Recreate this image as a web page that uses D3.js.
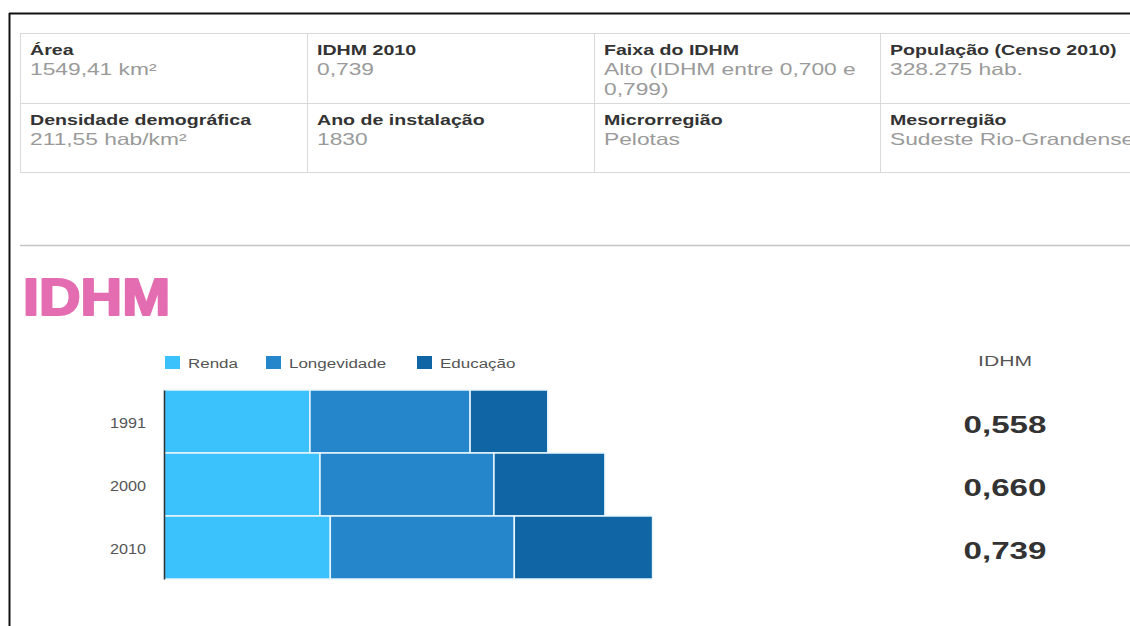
<!DOCTYPE html>
<html><head><meta charset="utf-8">
<script src="https://cdn.jsdelivr.net/npm/d3@7"></script>
<style>html,body{margin:0;padding:0;background:#fff;overflow:hidden}</style>
</head><body>
<svg id="c" width="1130" height="626"></svg>
<script>
// ---- data ----
const infoLabels = ["Área","IDHM 2010","Faixa do IDHM","População (Censo 2010)","Densidade demográfica","Ano de instalação","Microrregião","Mesorregião"];
const infoValues = [["1549,41 km²"],["0,739"],["Alto (IDHM entre 0,700 e","0,799)"],["328.275 hab."],["211,55 hab/km²"],["1830"],["Pelotas"],["Sudeste Rio-Grandense"]];
const years = ["1991","2000","2010"];
const series = ["Renda","Longevidade","Educação"];
const renda = [0.667, 0.713, 0.760];
const longevidade = [0.732, 0.795, 0.841];
const educacao = [0.355, 0.507, 0.632];
const idhm = ["0,558","0,660","0,739"];
const colors = ["#3bc2fc","#2686cb","#1066a5"];

const SX = 1.38;
const FONT = "'Liberation Sans', Arial, sans-serif";
const svg = d3.select("#c");

function txt(x, y, s, opt) {
  opt = opt || {};
  const t = svg.append("text")
    .attr("transform", `translate(${x},${y}) scale(${opt.sx || SX},1)`)
    .attr("font-family", FONT)
    .attr("font-size", opt.size || 14)
    .attr("font-weight", opt.weight || "normal")
    .attr("fill", opt.fill || "#333")
    .attr("text-anchor", opt.anchor || "start")
    .text(s);
  if (opt.stroke) t.attr("stroke", opt.stroke).attr("stroke-width", opt.sw).attr("stroke-linejoin","round");
  return t;
}

// frame
svg.append("line").attr("x1",9).attr("x2",1130).attr("y1",13.5).attr("y2",13.5).attr("stroke","#111").attr("stroke-width",2);
svg.append("line").attr("x1",9.5).attr("x2",9.5).attr("y1",13).attr("y2",626).attr("stroke","#111").attr("stroke-width",2);

// info table
const colX = [20, 307, 594, 880, 1167];
const rowY = [33, 103, 172];
const lineC = "#d9d9d9";
rowY.forEach(y => svg.append("line").attr("x1",20).attr("x2",1130).attr("y1",y+0.5).attr("y2",y+0.5).attr("stroke",lineC));
colX.slice(0,4).forEach(x => svg.append("line").attr("x1",x+0.5).attr("x2",x+0.5).attr("y1",33).attr("y2",172).attr("stroke",lineC));
infoLabels.forEach((l,i) => {
  const c = i % 4, r = Math.floor(i / 4);
  const x = colX[c] + 10, y0 = rowY[r];
  txt(x, y0 + 22, l, {size: 14.2, weight: "bold", fill: "#333"});
  infoValues[i].forEach((v,k) => txt(x, y0 + 42 + k*20, v, {size: 16.5, fill: "#9a9a9a"}));
});

// separator
svg.append("line").attr("x1",20).attr("x2",1130).attr("y1",245.5).attr("y2",245.5).attr("stroke","#c4c4c4").attr("stroke-width",1.5);

// title
txt(23, 315, "IDHM", {size: 51, sx: 1.13, weight: "bold", fill: "#e36db0", stroke: "#e36db0", sw: 2.2});

// legend
const legX = [165, 266, 417];
series.forEach((s,i) => {
  svg.append("rect").attr("x",legX[i]).attr("y",356).attr("width",15).attr("height",13).attr("fill",colors[i]);
  txt(legX[i] + 23, 368, s, {size: 12.3, fill: "#555"});
});

// bars
const x0 = 164;
const x = d3.scaleLinear().domain([0, 2.5]).range([x0, x0 + 547]);
const y = d3.scaleBand().domain(years).range([390, 579]).padding(0);
const rows = years.map((yr,i) => ({year: yr, vals: [renda[i], longevidade[i], educacao[i]]}));
rows.forEach(r => {
  let acc = 0;
  r.vals.forEach((v,k) => {
    svg.append("rect")
      .attr("x", x(acc)).attr("y", y(r.year))
      .attr("width", x(acc + v) - x(acc)).attr("height", y.bandwidth())
      .attr("fill", colors[k]).attr("stroke", "#e8f6fd").attr("stroke-width", 1.5);
    acc += v;
  });
});
// y axis
const ax = svg.append("g").attr("transform", `translate(${x0},0)`)
  .call(d3.axisLeft(y).tickSize(0).tickPadding(18));
ax.select(".domain").attr("stroke","#333").attr("stroke-width",1.5);
ax.selectAll("text").remove();
years.forEach(yr => txt(x0 - 18, y(yr) + y.bandwidth()/2 + 6, yr, {size: 15, sx: 1.08, fill: "#555", anchor: "end"}));

// IDHM column
txt(1005, 366, "IDHM", {size: 15.3, fill: "#555", anchor: "middle"});
years.forEach((yr,i) => txt(1005, y(yr) + y.bandwidth()/2 + 11, idhm[i], {size: 24, weight: "bold", fill: "#333", anchor: "middle"}));
</script>
</body></html>
